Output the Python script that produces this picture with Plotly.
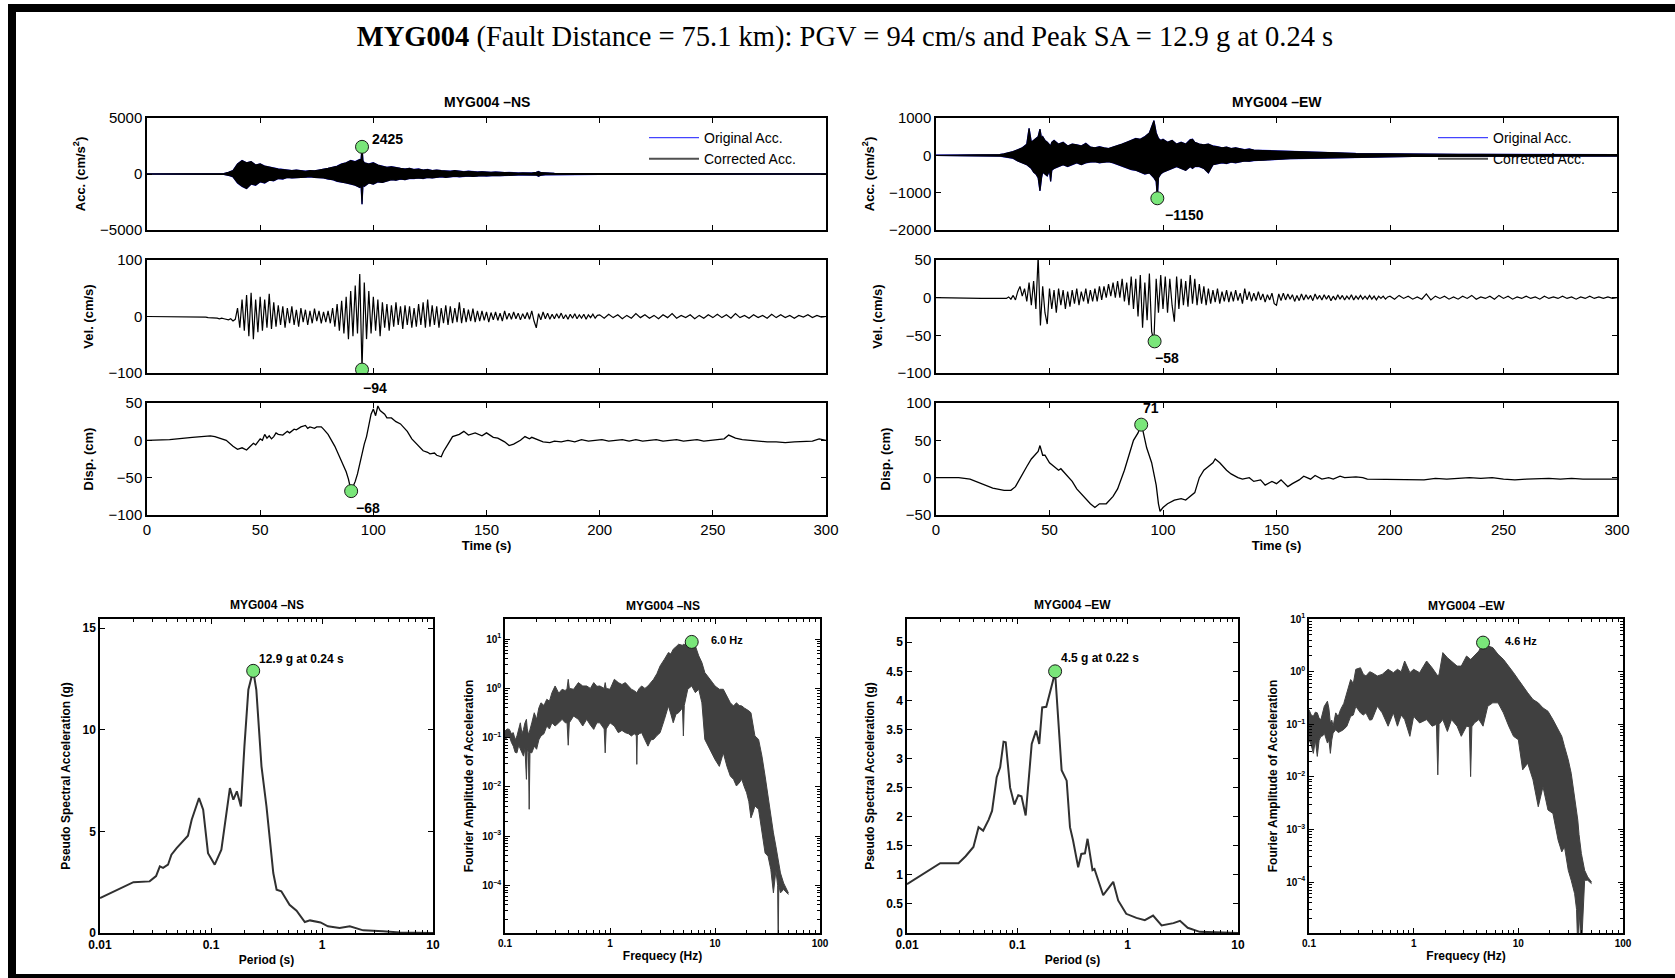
import math
import plotly.graph_objects as go

W, H = 1675, 978
SANS = "Liberation Sans, Arial, sans-serif"
SERIF = "Liberation Serif, Times New Roman, serif"

# ---------------- time-series data ----------------
ACC_NS_T = [0, 10, 20, 30, 32, 34, 36, 38, 40, 42,
            44, 46, 48, 50, 52, 54, 56, 58, 60, 62,
            64, 66, 68, 70, 72, 74, 76, 78, 80, 82,
            84, 86, 88, 90, 92, 94, 94.6, 95, 95.4, 96,
            98, 100, 102, 104, 106, 108, 110, 112, 114, 116,
            118, 120, 122, 124, 126, 128, 130, 132, 134, 136,
            138, 140, 142, 144, 146, 148, 150, 152, 154, 156,
            158, 160, 162, 164, 166, 168, 170, 172, 173, 174,
            176, 178, 180, 185, 190, 200, 210, 220, 230, 240,
            250, 260, 270, 280, 290, 300]
ACC_NS_UP = [5, 5, 8, 10, 20, 40, 150, 300, 900, 1200,
             1000, 1100, 800, 900, 700, 600, 500, 450, 400, 350,
             300, 350, 300, 250, 300, 280, 350, 400, 500, 600,
             700, 900, 1000, 1200, 1100, 1300, 1300, 2425, 1200, 1000,
             900, 1000, 800, 700, 600, 650, 550, 500, 450, 500,
             400, 450, 350, 400, 300, 350, 300, 280, 250, 300,
             250, 200, 250, 200, 180, 200, 160, 150, 180, 130,
             120, 140, 100, 90, 100, 80, 90, 150, 220, 120,
             70, 80, 60, 50, 45, 40, 40, 35, 35, 30,
             30, 30, 30, 25, 25, 20]
ACC_NS_LO = [-5, -5, -8, -10, -20, -40, -120, -250, -800, -1100,
             -1300, -900, -1000, -700, -800, -550, -600, -400, -450, -300,
             -350, -300, -300, -280, -250, -300, -300, -350, -450, -500,
             -650, -700, -800, -900, -1000, -1200, -1100, -2700, -1000, -1100,
             -800, -900, -700, -750, -600, -500, -550, -450, -500, -400,
             -400, -350, -400, -300, -350, -300, -250, -300, -250, -200,
             -250, -200, -180, -220, -170, -150, -180, -140, -120, -150,
             -120, -100, -110, -90, -80, -90, -70, -100, -200, -110,
             -70, -60, -60, -50, -45, -40, -40, -35, -35, -30,
             -30, -30, -30, -25, -25, -20]

ACC_EW_T = [0, 10, 20, 26, 28, 30, 32, 34, 36, 38,
            40, 41, 42, 43, 44, 45, 45.8, 46.5, 47, 48,
            49, 50, 50.5, 51, 52, 54, 56, 58, 60, 62,
            64, 66, 68, 70, 72, 74, 76, 78, 80, 82,
            84, 86, 88, 90, 92, 94, 96, 97, 97.5, 98,
            99, 100, 102, 104, 106, 108, 110, 112, 113, 114,
            116, 118, 120, 122, 124, 126, 128, 130, 132, 134,
            136, 138, 140, 144, 148, 152, 156, 160, 164, 168,
            172, 176, 180, 185, 190, 195, 200, 210, 220, 230,
            240, 250, 260, 270, 280, 290, 300]
ACC_EW_UP = [3, 3, 5, 10, 20, 40, 60, 100, 150, 200,
             300, 720, 350, 400, 450, 500, 700, 450, 500, 400,
             350, 300, 250, 350, 400, 300, 350, 250, 300, 280,
             250, 320, 220, 200, 230, 200, 180, 220, 250, 300,
             350, 400, 450, 430, 500, 600, 930, 600, 500, 450,
             400, 430, 350, 400, 300, 350, 300, 420, 430, 350,
             300, 280, 300, 250, 230, 200, 220, 180, 200, 180,
             150, 170, 140, 130, 120, 110, 100, 90, 80, 85,
             70, 65, 60, 50, 45, 40, 35, 30, 30, 25,
             25, 25, 20, 20, 20, 20, 20]
ACC_EW_LO = [-3, -3, -5, -10, -20, -40, -50, -80, -150, -200,
             -250, -300, -350, -450, -500, -600, -950, -600, -450, -500,
             -550, -400, -700, -400, -350, -300, -250, -300, -250, -200,
             -250, -200, -180, -170, -200, -180, -170, -200, -250, -300,
             -350, -380, -400, -450, -500, -470, -600, -700, -1150, -600,
             -500, -450, -400, -350, -300, -350, -400, -300, -350, -300,
             -300, -350, -470, -250, -220, -200, -220, -180, -200, -170,
             -150, -160, -140, -130, -110, -100, -90, -85, -80, -75,
             -65, -60, -55, -50, -45, -40, -35, -30, -30, -25,
             -25, -25, -20, -20, -20, -20, -20]

VEL_T = [0, 10, 20] + list(range(26, 200)) + list(range(200, 301, 2))
VEL_NS = [0, 0, -1,
          -1, -2, -2, -3, -2, -3, -4, -3, -4, -5, -6, -4, -8, -5,
          15, -20, 30, -25, 38, -35, 42, -40, 30, -28,
          35, -25, 30, -20, 40, -22, 25, -18, 20, -15,
          18, -20, 15, -12, 18, -15, 12, -18, 15, -10,
          12, -15, 10, -12, 14, -8, 10, -12, 8, -10,
          10, -12, 15, -18, 22, -25, 28, -30, 35, -40,
          45, -35, 55, -30, 75, -94, 60, -40, 45, -30,
          35, -25, 30, -35, 25, -20, 22, -25, 20, -18,
          25, -15, 18, -22, 20, -15, 18, -20, 15, -18,
          22, -15, 25, -20, 30, -18, 20, -15, 18, -20,
          15, -12, 20, -15, 18, -12, 15, -10, 25, -12,
          15, -10, 12, -8, 14, -10, 10, -8, 10, -7,
          8, -10, 7, -6, 8, -7, 6, -8, 10, -5,
          6, -5, 8, -4, 6, -6, 5, -4, 7, -5,
          10, -8, -20, 5, -6, 8, -4, 6, -5, 4,
          -4, 5, -3, 6, -4, 3, -5, 4, -3, 5,
          -4, 3, -3, 4, -5, 3, -2, 4, -3, 2,
          3, -3, 4, -2, 3, -4, 2, -3, 5, -2,
          3, -3, 2, -4, 3, -2, 5, -3, 2, -2,
          3, -4, 2, -3, 3, -2, 4, -2, 3, -3,
          5, -2, 2, -3, 3, -2, 2, -3, 4, -2,
          3, -2, 2, -3, 2, -1, 3, -2, 2, -1,
          0]
VEL_EW = [0, -1, -1,
          -1, -1, -1, -1, 0, -1, 1, -2, 3, -3, 8, 15, 2, 12,
          -5, 20, -10, 22, -15, 55, -37, 15, -20, -35,
          12, -15, 10, -20, 12, -10, 10, -15, 8, -12,
          10, -8, 12, -10, 8, -5, 12, -8, 10, -5,
          12, -5, 15, -3, 15, 0, 18, 2, 20, 0,
          22, 0, 25, -5, 20, -10, 28, -15, 25, -25,
          30, -40, 20, -30, 32, -45, -58, 25, -20, 30,
          -15, 28, -20, 25, -10, -32, 28, -15, 25, -10,
          22, -12, 30, -8, 25, -10, 18, -8, 15, -10,
          12, -8, 10, -6, 12, -8, 8, -5, 10, -6,
          8, -5, 10, -4, 6, -8, 12, -3, 8, -5,
          6, -4, 8, -3, 5, -6, 4, -3, 6, -8,
          -10, 5, -4, 6, -3, 5, -2, 4, -5, 3,
          -4, 5, -3, 4, -2, 3, -4, 5, -2, 3,
          -3, 4, -2, 3, -4, 2, -3, 4, -2, 3,
          -3, 2, -2, 4, -3, 2, -2, 3, -2, 2,
          -2, 3, -2, 2, -3, 2, -1, 2, -2, 1,
          2, -2, 3, -1, 2, -2, 1, -2, 5, -3,
          2, -1, 2, -2, 1, -2, 2, -1, 3, -2,
          1, -1, 2, -2, 3, -1, 2, -2, 1, -1,
          2, -1, 1, -2, 2, -1, 1, -1, 2, -1,
          1, -2, 1, -1, 2, -1, 1, -1, 1, -1,
          0]

DISP_NS_T = [0, 10, 20, 28, 30, 33, 35, 38, 40, 42,
             44, 45, 47, 48, 50, 51, 52, 53, 54, 55,
             56, 57, 58, 60, 62, 63, 65, 66, 68, 70,
             71, 72, 74, 75, 77, 78, 80, 83, 86, 88,
             89, 90.2, 91, 92, 93, 94, 95, 96, 97, 98,
             99, 100, 101, 102, 103, 105, 106, 108, 110, 112,
             114, 115, 117, 120, 122, 124, 125, 127, 128, 130,
             131, 133, 135, 138, 140, 142, 145, 148, 150, 153,
             155, 158, 160, 162, 165, 167, 169, 170, 173, 175,
             178, 180, 183, 186, 189, 192, 195, 198, 201, 204,
             207, 210, 213, 216, 219, 222, 225, 228, 231, 234,
             237, 240, 243, 246, 249, 252, 255, 257, 260, 263,
             266, 270, 274, 278, 282, 286, 290, 294, 297, 300]
DISP_NS = [0, 1, 4, 6, 5, 2, 0, -8, -12, -10,
           -13, -10, -4, -6, 2, 0, 8, 3, 6, 2,
           5, 10, 8, 7, 12, 10, 15, 14, 18, 20,
           16, 18, 16, 18, 18, 15, 8, -8, -28, -42,
           -52, -68, -62, -55, -45, -30, -15, -5, 5, 20,
           35, 42, 33, 46, 40, 35, 30, 30, 25, 22,
           15, 12, 2, -8, -14, -16, -18, -17, -20, -22,
           -15, -5, 5, 8, 12, 7, 10, 6, 10, 4,
           3, -2, -7, -5, 0, 5, 2, 4, 0, -2,
           -3, -1, -2, 0, -2, 1, -1, 0, 1, -1,
           0, 1, -1, 1, -1, 0, 1, -1, 0, 1,
           -1, 0, 1, -1, 0, 1, 2, 7, 3, 1,
           0, -1, -2, -2, -3, -2, -1, -1, 2, 0]

DISP_EW_T = [0, 10, 15, 20, 25, 30, 33, 35, 38, 40,
             42, 44, 45, 45.8, 47, 48, 50, 52, 54, 55,
             57, 60, 62, 65, 68, 70, 72, 75, 78, 80,
             83, 85, 87, 89, 90.4, 91, 92, 92.8, 95, 97,
             98, 98.7, 100, 102, 105, 108, 110, 112, 114, 116,
             118, 120, 122, 123, 125, 128, 130, 133, 135, 138,
             140, 143, 145, 148, 150, 152, 155, 157, 160, 162,
             165, 167, 170, 173, 175, 178, 180, 185, 188, 190,
             195, 200, 205, 210, 215, 220, 225, 230, 235, 240,
             245, 250, 255, 260, 265, 270, 275, 280, 285, 290,
             295, 300]
DISP_EW = [0, 0, -2, -8, -14, -17, -17, -12, 5, 15,
           25, 32, 35, 43, 30, 30, 20, 15, 10, 12,
           5, -5, -15, -25, -35, -40, -35, -35, -25, -15,
           10, 30, 50, 60, 71, 65, 50, 40, 20, -10,
           -35, -45, -40, -35, -30, -28, -30, -25, -20, 0,
           10, 15, 20, 25, 20, 10, 5, 0, -2, 0,
           -5, -3, -10, -5, -8, -3, -12, -8, -3, 2,
           -2, 3, -2, 0, -2, 2, 0, 1, 0, -2,
           -2, -3, -2, -2, -3, -1, -2, -1, 0, -1,
           0, -2, -3, -2, -1, -1, -2, -1, -2, -2,
           -2, -2]

# peaks
PEAK_ACC = {"NS": (95, 2425), "EW": (97.5, -1150)}
PEAK_VEL = {"NS": (95, -94), "EW": (96.3, -58)}
PEAK_DISP = {"NS": (90.2, -68), "EW": (90.4, 71)}

# ---------------- spectra ----------------
PSA_NS_T = [0.01, 0.02, 0.028, 0.032, 0.0346, 0.037, 0.041, 0.044, 0.049, 0.056,
            0.062, 0.067, 0.078, 0.085, 0.094, 0.108, 0.124, 0.148, 0.159, 0.171,
            0.186, 0.2, 0.217, 0.24, 0.256, 0.285, 0.316, 0.364, 0.39, 0.43,
            0.51, 0.59, 0.70, 0.78, 0.97, 1.13, 1.44, 1.78, 2.35, 3.55,
            5.0, 10]
PSA_NS = [1.72, 2.5, 2.54, 2.8, 3.28, 3.2, 3.36, 3.85, 4.18, 4.5,
          4.79, 5.57, 6.64, 6.07, 3.93, 3.36, 4.1, 7.13, 6.56, 6.97,
          6.23, 9.18, 11.97, 12.92, 11.97, 8.2, 6.23, 2.95, 2.13, 2.05,
          1.39, 1.1, 0.54, 0.62, 0.52, 0.33, 0.25, 0.33, 0.13, 0.08,
          0.03, 0.0]
PSA_EW_T = [0.01, 0.02, 0.0293, 0.034, 0.040, 0.0445, 0.049, 0.055, 0.059, 0.065,
            0.0699, 0.075, 0.0785, 0.086, 0.094, 0.102, 0.109, 0.119, 0.135, 0.148,
            0.158, 0.168, 0.183, 0.22, 0.252, 0.28, 0.30, 0.32, 0.356, 0.38,
            0.41, 0.433, 0.48, 0.50, 0.60, 0.74, 0.82, 0.97, 1.2, 1.43,
            1.7, 2.03, 2.6, 2.98, 3.5, 4.5, 10]
PSA_EW = [0.84, 1.2, 1.2, 1.32, 1.48, 1.82, 1.76, 1.95, 2.1, 2.68,
          2.85, 3.29, 3.28, 2.5, 2.21, 2.37, 2.35, 2.02, 3.25, 3.48,
          3.25, 3.88, 3.89, 4.48, 2.8, 2.62, 1.82, 1.59, 1.13, 1.36,
          1.37, 1.62, 1.08, 1.1, 0.65, 0.88, 0.56, 0.33, 0.26, 0.22,
          0.3, 0.13, 0.17, 0.21, 0.09, 0.02, 0.0]
PEAK_PSA = {"NS": (0.24, 12.9), "EW": (0.22, 4.5)}

FAS_NS_F = [0.100, 0.105, 0.110, 0.115, 0.120, 0.125, 0.130, 0.135, 0.140, 0.145,
            0.150, 0.155, 0.160, 0.163, 0.167, 0.170, 0.173, 0.180, 0.190, 0.200,
            0.210, 0.220, 0.235, 0.250, 0.265, 0.280, 0.300, 0.325, 0.350, 0.375,
            0.390, 0.400, 0.410, 0.450, 0.500, 0.550, 0.600, 0.650, 0.700, 0.750,
            0.800, 0.880, 0.900, 0.920, 1.000, 1.100, 1.200, 1.300, 1.400, 1.500,
            1.600, 1.700, 1.780, 1.800, 1.820, 1.900, 2.000, 2.150, 2.300, 2.450,
            2.600, 2.800, 3.000, 3.300, 3.600, 3.800, 4.000, 4.250, 4.500, 4.900,
            5.000, 5.100, 5.500, 6.000, 6.500, 7.000, 7.500, 8.000, 8.500, 9.000,
            9.500, 10.00, 11.00, 12.00, 13.00, 14.00, 15.00, 16.00, 17.00, 18.00,
            19.00, 20.00, 21.00, 22.00, 23.00, 24.00, 26.00, 28.00, 30.00, 32.00,
            34.00, 36.00, 38.00, 39.50, 40.00, 40.50, 42.00, 45.00, 48.00, 50.00]
FAS_NS_UP = [0.136, 0.15, 0.147, 0.12, 0.126, 0.09, 0.108, 0.16, 0.20, 0.12,
             0.147, 0.20, 0.235, 0.15, 0.12, 0.126, 0.15, 0.20, 0.32, 0.235,
             0.40, 0.51, 0.45, 0.60, 0.55, 0.82, 1.12, 0.80, 0.96, 0.90,
             1.0, 1.53, 1.0, 0.96, 1.31, 1.12, 1.12, 1.0, 1.31, 1.1,
             1.12, 1.0, 1.31, 1.0, 0.96, 1.53, 1.31, 1.2, 1.31, 1.1,
             0.96, 0.9, 0.85, 0.82, 0.85, 1.0, 1.12, 1.0, 1.12, 1.3,
             1.53, 2.0, 2.86, 3.92, 5.35, 5.0, 6.26, 7.0, 7.9, 7.5,
             7.9, 7.8, 8.55, 8.8, 7.3, 4.58, 3.35, 2.1, 1.8, 1.53,
             1.3, 1.12, 0.96, 0.96, 0.70, 0.51, 0.44, 0.51, 0.45, 0.44,
             0.40, 0.376, 0.35, 0.32, 0.2, 0.108, 0.092, 0.042, 0.0165, 0.0065,
             0.00217, 0.00116, 0.00062, 0.0004, 0.00033, 0.0003, 0.000178, 0.000111, 0.000082, 0.00007]
FAS_NS_LO = [0.092, 0.10, 0.108, 0.08, 0.067, 0.05, 0.049, 0.07, 0.058, 0.05,
             0.042, 0.06, 0.0142, 0.06, 0.05, 0.0035, 0.05, 0.049, 0.067, 0.058,
             0.09, 0.108, 0.12, 0.172, 0.15, 0.20, 0.172, 0.20, 0.235, 0.20,
             0.20, 0.07, 0.20, 0.275, 0.235, 0.172, 0.235, 0.18, 0.147, 0.20,
             0.20, 0.15, 0.049, 0.15, 0.20, 0.172, 0.126, 0.14, 0.126, 0.12,
             0.108, 0.12, 0.11, 0.0286, 0.11, 0.12, 0.126, 0.09, 0.067, 0.09,
             0.092, 0.11, 0.126, 0.235, 0.44, 0.3, 0.20, 0.3, 0.32, 0.4,
             0.108, 0.45, 0.96, 1.12, 0.82, 0.96, 0.51, 0.092, 0.07, 0.058,
             0.045, 0.036, 0.026, 0.049, 0.026, 0.0165, 0.0142, 0.0104, 0.012, 0.0142,
             0.01, 0.0076, 0.005, 0.00234, 0.003, 0.0041, 0.0035, 0.00116, 0.00045, 0.00039,
             0.00021, 0.00007, 0.0002, 0.0001, 0.000005, 0.0001, 0.00007, 0.000082, 0.00007, 0.000065]

FAS_EW_F = [0.100, 0.105, 0.110, 0.115, 0.120, 0.125, 0.130, 0.135, 0.140, 0.150,
            0.155, 0.160, 0.165, 0.170, 0.180, 0.190, 0.200, 0.215, 0.230, 0.250,
            0.265, 0.280, 0.310, 0.330, 0.350, 0.380, 0.400, 0.450, 0.500, 0.570,
            0.640, 0.700, 0.760, 0.820, 0.920, 1.000, 1.140, 1.330, 1.500, 1.650,
            1.700, 1.750, 1.900, 2.100, 2.300, 2.600, 2.850, 3.200, 3.400, 3.500,
            3.600, 3.800, 4.200, 4.600, 5.100, 5.700, 6.400, 7.200, 8.100, 9.000,
            10.00, 11.00, 12.30, 13.80, 15.50, 17.20, 19.20, 21.40, 24.00, 26.00,
            27.60, 30.00, 32.00, 34.50, 36.00, 37.00, 38.00, 40.00, 43.00, 46.00,
            50.00]
FAS_EW_UP = [0.19, 0.15, 0.142, 0.17, 0.165, 0.13, 0.123, 0.18, 0.22, 0.275,
             0.20, 0.106, 0.12, 0.092, 0.165, 0.14, 0.19, 0.25, 0.397, 0.71,
             0.60, 1.11, 1.19, 0.9, 0.83, 1.0, 0.96, 0.83, 0.89, 1.11,
             0.96, 1.11, 1.0, 1.6, 0.96, 1.11, 0.96, 1.6, 1.19, 0.9,
             0.83, 0.9, 2.31, 1.85, 1.6, 1.28, 1.28, 1.99, 1.8, 1.72,
             1.8, 1.99, 2.48, 3.58, 3.09, 2.88, 2.14, 1.72, 1.28, 0.96,
             0.71, 0.53, 0.397, 0.296, 0.256, 0.205, 0.177, 0.123, 0.079, 0.059,
             0.038, 0.0211, 0.0117, 0.0042, 0.0022, 0.0015, 0.0008, 0.00035, 0.000167, 0.000125,
             0.0001]
FAS_EW_LO = [0.051, 0.04, 0.028, 0.05, 0.0245, 0.05, 0.059, 0.06, 0.068, 0.044,
             0.05, 0.028, 0.05, 0.068, 0.079, 0.07, 0.073, 0.08, 0.092, 0.142,
             0.15, 0.22, 0.165, 0.15, 0.165, 0.12, 0.123, 0.22, 0.165, 0.092,
             0.165, 0.092, 0.15, 0.123, 0.059, 0.142, 0.106, 0.123, 0.092, 0.10,
             0.0109, 0.10, 0.123, 0.073, 0.123, 0.092, 0.059, 0.092, 0.09, 0.0101,
             0.09, 0.106, 0.123, 0.092, 0.22, 0.256, 0.256, 0.165, 0.092, 0.059,
             0.051, 0.0136, 0.0182, 0.0088, 0.0027, 0.0065, 0.00234, 0.00202, 0.000625, 0.000374,
             0.000467, 0.000167, 0.000108, 0.00006, 0.00003, 0.000005, 0.00003, 0.000005, 0.000108, 0.000108,
             0.000093]
PEAK_FAS = {"NS": (6.0, 8.8), "EW": (4.6, 3.58)}

TIME_TICKS = [0, 50, 100, 150, 200, 250, 300]

# ---------------- helpers ----------------
def xdom(a, b):
    return [a / W, b / W]


def ydom(top, bottom):
    return [1 - bottom / H, 1 - top / H]


fig = go.Figure()
MARK_GREEN = "#7ae67a"


def add_band(t, up, lo, xa, ya, color, width=1.0):
    fig.add_trace(go.Scatter(x=t, y=up, mode="lines", line=dict(color=color, width=width),
                             xaxis=xa, yaxis=ya, showlegend=False, hoverinfo="skip"))
    fig.add_trace(go.Scatter(x=t, y=lo, mode="lines", line=dict(color=color, width=width),
                             fill="tonexty", fillcolor=color,
                             xaxis=xa, yaxis=ya, showlegend=False, hoverinfo="skip"))


def add_line(x, y, xa, ya, color="black", width=1.2):
    fig.add_trace(go.Scatter(x=x, y=y, mode="lines", line=dict(color=color, width=width),
                             xaxis=xa, yaxis=ya, showlegend=False, hoverinfo="skip"))


def add_peak(pt, xa, ya):
    fig.add_trace(go.Scatter(x=[pt[0]], y=[pt[1]], mode="markers",
                             marker=dict(size=13, color=MARK_GREEN, line=dict(color="#1a1a1a", width=1)),
                             xaxis=xa, yaxis=ya, showlegend=False, hoverinfo="skip"))


# acceleration (original in blue underneath, corrected in black)
add_band(ACC_NS_T, ACC_NS_UP, ACC_NS_LO, "x", "y", "#3030ff", 1.3)
add_band(ACC_NS_T, ACC_NS_UP, ACC_NS_LO, "x", "y", "black", 1.1)
add_band(ACC_EW_T, ACC_EW_UP, ACC_EW_LO, "x2", "y2", "#3030ff", 1.3)
add_band(ACC_EW_T, ACC_EW_UP, ACC_EW_LO, "x2", "y2", "black", 1.1)

# legend entries
fig.add_trace(go.Scatter(x=[None], y=[None], mode="lines", name="Original Acc.",
                         line=dict(color="#4444ff", width=1.3), xaxis="x", yaxis="y", legend="legend"))
fig.add_trace(go.Scatter(x=[None], y=[None], mode="lines", name="Corrected Acc.",
                         line=dict(color="#505050", width=2), xaxis="x", yaxis="y", legend="legend"))
fig.add_trace(go.Scatter(x=[None], y=[None], mode="lines", name="Original Acc.",
                         line=dict(color="#4444ff", width=1.3), xaxis="x2", yaxis="y2", legend="legend2"))
fig.add_trace(go.Scatter(x=[None], y=[None], mode="lines", name="Corrected Acc.",
                         line=dict(color="#505050", width=2), xaxis="x2", yaxis="y2", legend="legend2"))

add_line(VEL_T, VEL_NS, "x3", "y3", width=1.2)
add_line(VEL_T, VEL_EW, "x4", "y4", width=1.2)
add_line(DISP_NS_T, DISP_NS, "x5", "y5", width=1.3)
add_line(DISP_EW_T, DISP_EW, "x6", "y6", width=1.3)

add_peak(PEAK_ACC["NS"], "x", "y")
add_peak(PEAK_ACC["EW"], "x2", "y2")
add_peak(PEAK_VEL["NS"], "x3", "y3")
add_peak(PEAK_VEL["EW"], "x4", "y4")
add_peak(PEAK_DISP["NS"], "x5", "y5")
add_peak(PEAK_DISP["EW"], "x6", "y6")

# spectra
add_line(PSA_NS_T, PSA_NS, "x7", "y7", color="#303030", width=2)
add_band(FAS_NS_F, FAS_NS_UP, FAS_NS_LO, "x8", "y8", "#404040", 1.0)
add_line(PSA_EW_T, PSA_EW, "x9", "y9", color="#303030", width=2)
add_band(FAS_EW_F, FAS_EW_UP, FAS_EW_LO, "x10", "y10", "#404040", 1.0)
add_peak(PEAK_PSA["NS"], "x7", "y7")
add_peak(PEAK_FAS["NS"], "x8", "y8")
add_peak(PEAK_PSA["EW"], "x9", "y9")
add_peak(PEAK_FAS["EW"], "x10", "y10")

# ---------------- axes ----------------
AX = dict(showline=True, linecolor="black", linewidth=1.5, mirror="ticks", ticks="inside",
          ticklen=5, tickwidth=1, tickcolor="black", showgrid=False, zeroline=False,
          automargin=False)
TICKF = dict(family=SANS, size=15, color="black")
TITF = dict(family=SANS, size=13, color="black", weight="bold")

COL_NS = xdom(147, 826)
COL_EW = xdom(936, 1617)
ROW_ACC = ydom(118, 230)
ROW_VEL = ydom(260, 373)
ROW_DISP = ydom(403, 515)


def txaxis(dom, anchor, labels):
    d = dict(AX, domain=dom, anchor=anchor, range=[0, 300], tickvals=TIME_TICKS,
             showticklabels=labels, tickfont=TICKF)
    if labels:
        d["title"] = dict(text="Time (s)", font=TITF, standoff=2)
    return d


def tyaxis(dom, anchor, rng, ticks, title):
    return dict(AX, domain=dom, anchor=anchor, range=rng, tickvals=ticks, tickfont=TICKF,
                title=dict(text=title, font=TITF, standoff=12))


lay = {}
lay["xaxis"] = txaxis(COL_NS, "y", False)
lay["yaxis"] = tyaxis(ROW_ACC, "x", [-5000, 5000], [-5000, 0, 5000], "Acc. (cm/s<sup>2</sup>)")
lay["xaxis2"] = txaxis(COL_EW, "y2", False)
lay["yaxis2"] = tyaxis(ROW_ACC, "x2", [-2000, 1000], [-2000, -1000, 0, 1000], "Acc. (cm/s<sup>2</sup>)")
lay["xaxis3"] = txaxis(COL_NS, "y3", False)
lay["yaxis3"] = tyaxis(ROW_VEL, "x3", [-100, 100], [-100, 0, 100], "Vel. (cm/s)")
lay["xaxis4"] = txaxis(COL_EW, "y4", False)
lay["yaxis4"] = tyaxis(ROW_VEL, "x4", [-100, 50], [-100, -50, 0, 50], "Vel. (cm/s)")
lay["xaxis5"] = txaxis(COL_NS, "y5", True)
lay["yaxis5"] = tyaxis(ROW_DISP, "x5", [-100, 50], [-100, -50, 0, 50], "Disp. (cm)")
lay["xaxis6"] = txaxis(COL_EW, "y6", True)
lay["yaxis6"] = tyaxis(ROW_DISP, "x6", [-50, 100], [-50, 0, 50, 100], "Disp. (cm)")

BOT = ydom(619, 933)
SMALLF = dict(family=SANS, size=12, color="black", weight="bold")
TINYF = dict(family=SANS, size=10, color="black", weight="bold")
STITF = dict(family=SANS, size=12, color="black", weight="bold")
PERIOD_TICKS = [0.01, 0.1, 1, 10]
PERIOD_MINOR = [k * 10.0 ** e for e in (-2, -1, 0) for k in range(2, 10)]
FREQ_TICKS = [0.1, 1, 10, 100]
FREQ_MINOR = [k * 10.0 ** e for e in (-1, 0, 1) for k in range(2, 10)]
FAS_TICKS = [1e-4, 1e-3, 1e-2, 1e-1, 1, 10]
FAS_TICKTEXT = ["10<sup>−4</sup>", "10<sup>−3</sup>", "10<sup>−2</sup>",
                "10<sup>−1</sup>", "10<sup>0</sup>", "10<sup>1</sup>"]
FAS_MINOR = [k * 10.0 ** e for e in (-5, -4, -3, -2, -1, 0) for k in range(2, 10)]
MINOR = dict(ticks="inside", ticklen=3, tickcolor="black", showgrid=False)


def psa_x(dom, anchor):
    return dict(AX, domain=dom, anchor=anchor, type="log", range=[-2, 1],
                tickvals=PERIOD_TICKS, ticktext=["0.01", "0.1", "1", "10"], tickfont=SMALLF,
                minor=dict(MINOR, tickvals=PERIOD_MINOR),
                title=dict(text="Period (s)", font=STITF, standoff=4))


def fas_x(dom, anchor):
    return dict(AX, domain=dom, anchor=anchor, type="log", range=[-1, 2],
                tickvals=FREQ_TICKS, ticktext=["0.1", "1", "10", "100"], tickfont=TINYF,
                minor=dict(MINOR, tickvals=FREQ_MINOR),
                title=dict(text="Frequecy (Hz)", font=STITF, standoff=4))


def fas_y(dom, anchor, rng):
    return dict(AX, domain=dom, anchor=anchor, type="log", range=rng,
                tickvals=FAS_TICKS, ticktext=FAS_TICKTEXT, tickfont=TINYF,
                minor=dict(MINOR, tickvals=FAS_MINOR),
                title=dict(text="Fourier Amplitude of Acceleration", font=STITF, standoff=6))


lay["xaxis7"] = psa_x(xdom(100, 433), "y7")
lay["yaxis7"] = dict(AX, domain=BOT, anchor="x7", range=[0, 15.45], tickvals=[0, 5, 10, 15],
                     tickfont=SMALLF,
                     title=dict(text="Pseudo Spectral Acceleration (g)", font=STITF, standoff=9))
lay["xaxis8"] = fas_x(xdom(505, 820), "y8")
lay["yaxis8"] = fas_y(BOT, "x8", [-4.97, 1.41])
lay["xaxis9"] = psa_x(xdom(907, 1238), "y9")
lay["yaxis9"] = dict(AX, domain=BOT, anchor="x9", range=[0, 5.4],
                     tickvals=[0, 0.5, 1, 1.5, 2, 2.5, 3, 3.5, 4, 4.5, 5],
                     ticktext=["0", "0.5", "1", "1.5", "2", "2.5", "3", "3.5", "4", "4.5", "5"],
                     tickfont=SMALLF,
                     title=dict(text="Pseudo Spectral Acceleration (g)", font=STITF, standoff=9))
lay["xaxis10"] = fas_x(xdom(1309, 1623), "y10")
lay["yaxis10"] = fas_y(BOT, "x10", [-4.97, 1.003])

# ---------------- annotations ----------------
ann = []


def label(text, x, y, xref, yref, xanchor="left", yanchor="middle", xs=0, ys=0, size=14):
    ann.append(dict(text="<b>%s</b>" % text, x=x, y=y, xref=xref, yref=yref, showarrow=False,
                    xanchor=xanchor, yanchor=yanchor, xshift=xs, yshift=ys,
                    font=dict(family=SANS, size=size, color="black")))


label("2425", PEAK_ACC["NS"][0], PEAK_ACC["NS"][1], "x", "y", "left", "middle", 8, 8)
label("−1150", PEAK_ACC["EW"][0], PEAK_ACC["EW"][1], "x2", "y2", "left", "top", 6, -7)
label("−94", PEAK_VEL["NS"][0], PEAK_VEL["NS"][1], "x3", "y3", "left", "top", -1, -8)
label("−58", PEAK_VEL["EW"][0], PEAK_VEL["EW"][1], "x4", "y4", "left", "top", -2, -7)
label("−68", PEAK_DISP["NS"][0], PEAK_DISP["NS"][1], "x5", "y5", "left", "top", 3, -7)
label("71", PEAK_DISP["EW"][0], PEAK_DISP["EW"][1], "x6", "y6", "left", "bottom", 0, 7)
label("12.9 g at 0.24 s", math.log10(PEAK_PSA["NS"][0]), PEAK_PSA["NS"][1], "x7", "y7",
      "left", "middle", 4, 12, 12)
label("4.5 g at 0.22 s", math.log10(PEAK_PSA["EW"][0]), PEAK_PSA["EW"][1], "x9", "y9",
      "left", "middle", 4, 13, 12)
label("6.0 Hz", math.log10(PEAK_FAS["NS"][0]), math.log10(PEAK_FAS["NS"][1]), "x8", "y8",
      "left", "middle", 17, 2, 11)
label("4.6 Hz", math.log10(PEAK_FAS["EW"][0]), math.log10(PEAK_FAS["EW"][1]), "x10", "y10",
      "left", "middle", 20, 2, 11)

# panel titles
for text, xc, yc, size in [("MYG004 –NS", (147 + 826) / 2, 102, 14),
                           ("MYG004 –EW", (936 + 1617) / 2, 102, 14),
                           ("MYG004 –NS", (100 + 433) / 2, 605, 12),
                           ("MYG004 –NS", (505 + 820) / 2, 606, 12),
                           ("MYG004 –EW", (907 + 1238) / 2, 605, 12),
                           ("MYG004 –EW", (1309 + 1623) / 2, 606, 12)]:
    ann.append(dict(text="<b>%s</b>" % text, x=xc / W, y=1 - yc / H, xref="paper", yref="paper",
                    showarrow=False, xanchor="center", yanchor="middle",
                    font=dict(family=SANS, size=size, color="black")))

# frame around the page
shapes = [
    dict(type="rect", xref="paper", yref="paper", x0=8 / W, x1=1, y0=1 - 12 / H, y1=1 - 4 / H,
         fillcolor="black", line=dict(width=0), layer="above"),
    dict(type="rect", xref="paper", yref="paper", x0=8 / W, x1=16 / W, y0=0, y1=1 - 4 / H,
         fillcolor="black", line=dict(width=0), layer="above"),
    dict(type="rect", xref="paper", yref="paper", x0=8 / W, x1=1, y0=0, y1=4 / H,
         fillcolor="black", line=dict(width=0), layer="above"),
]

LEG = dict(bgcolor="rgba(0,0,0,0)", borderwidth=0, font=dict(family=SANS, size=14, color="black"),
           itemwidth=50, xanchor="left", yanchor="top", tracegroupgap=0, traceorder="normal")

fig.update_layout(
    width=W, height=H, margin=dict(l=0, r=0, t=0, b=0, autoexpand=False),
    paper_bgcolor="white", plot_bgcolor="white",
    title=dict(text="<b>MYG004</b> (Fault Distance = 75.1 km): PGV = 94 cm/s and Peak SA = 12.9 g at 0.24 s",
               x=845 / W, y=1 - 36 / H, xanchor="center", yanchor="middle",
               font=dict(family=SERIF, size=28.5, color="black")),
    legend=dict(LEG, x=644 / W, y=1 - 122 / H),
    legend2=dict(LEG, x=1433 / W, y=1 - 122 / H),
    annotations=ann, shapes=shapes, **lay,
)

fig.write_html("out.html")
